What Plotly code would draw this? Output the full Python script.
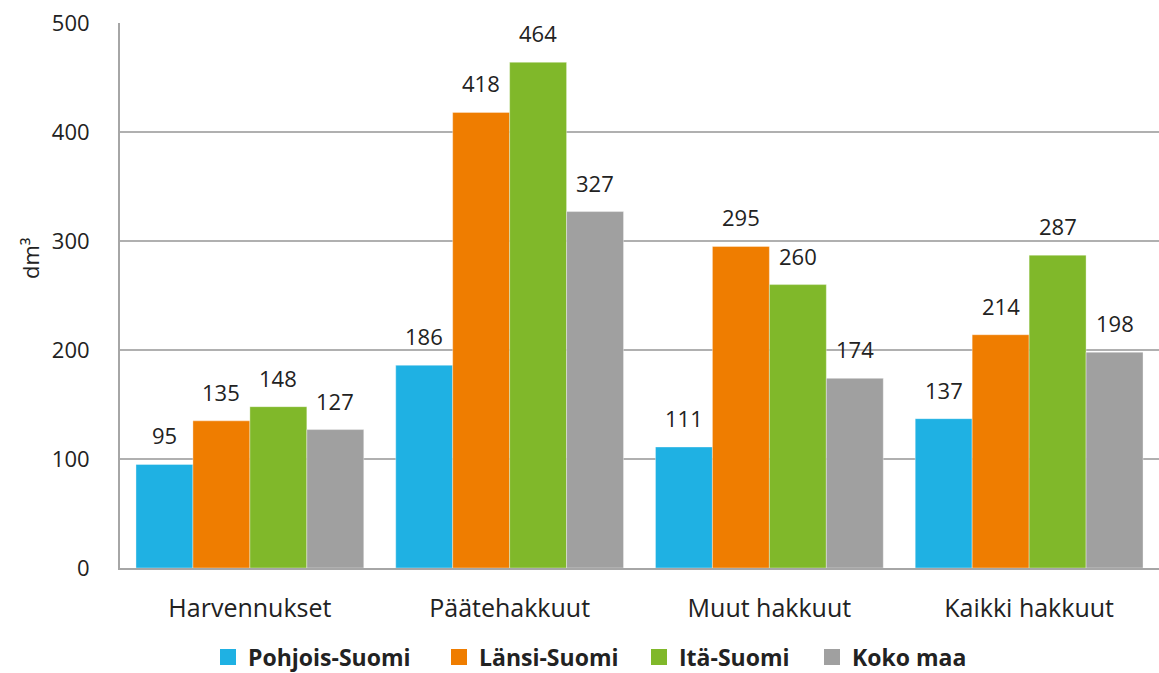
import plotly.graph_objects as go

categories = ["Harvennukset", "Päätehakkuut", "Muut hakkuut", "Kaikki hakkuut"]
series_names = ["Pohjois-Suomi", "Länsi-Suomi", "Itä-Suomi", "Koko maa"]
pohjois = [95, 186, 111, 137]
lansi = [135, 418, 295, 214]
ita = [148, 464, 260, 287]
koko = [127, 327, 174, 198]
values = [pohjois, lansi, ita, koko]
colors = ["#1FB1E3", "#EF7D00", "#80B82A", "#A0A0A0"]
y_ticks = [0, 100, 200, 300, 400, 500]

W, H = 1159, 673
ML, MR, MT, MB = 120, 0, 23, 105
BARGAP = 0.123
plot_w = W - ML - MR
plot_h = H - MT - MB
cat_w = plot_w / len(categories)
bar_w = cat_w * (1 - BARGAP) / len(series_names)
TXT = "#222222"

# legend text start positions (px) for each series entry
legend_text_x = [246, 477, 677, 850]
legend_y_px = 657

fig = go.Figure()
annotations = []
legends = {}
for i, (name, vals, col) in enumerate(zip(series_names, values, colors)):
    lg = "legend" if i == 0 else f"legend{i + 1}"
    fig.add_trace(go.Bar(
        x=categories, y=vals, name=name, showlegend=False,
        marker=dict(color=col, line=dict(color="rgba(255,255,255,0.6)", width=0.6)),
    ))
    # legend-only entry with a larger square swatch
    fig.add_trace(go.Scatter(
        x=[None], y=[None], mode="markers", name=name, legend=lg,
        marker=dict(symbol="square", size=16, color=col),
    ))
    legends[lg] = dict(
        x=(legend_text_x[i] - 38 - ML) / plot_w, xanchor="left",
        y=(H - MB - legend_y_px) / plot_h, yanchor="middle",
        orientation="h", bgcolor="rgba(0,0,0,0)", borderwidth=0,
        font=dict(family="Open Sans", size=23, color=TXT, weight="bold"),
        itemwidth=30,
    )
    for c, v in zip(categories, vals):
        annotations.append(dict(
            x=c, y=v, xref="x", yref="y", text=str(v), showarrow=False,
            xshift=(i - 1.5) * bar_w, yshift=29,
            xanchor="center", yanchor="middle",
            font=dict(family="Open Sans", size=22, color=TXT),
        ))

annotations.append(dict(
    x=(30 - ML) / plot_w, y=(H - MB - 258) / plot_h, xref="paper", yref="paper",
    xanchor="center", yanchor="middle",
    text="dm³", textangle=-90, showarrow=False,
    font=dict(family="Open Sans", size=22, color=TXT),
))

fig.update_layout(
    width=W, height=H,
    margin=dict(l=ML, r=MR, t=MT, b=MB, pad=0, autoexpand=False),
    paper_bgcolor="white", plot_bgcolor="white",
    barmode="group", bargap=BARGAP, bargroupgap=0,
    font=dict(family="Open Sans", size=22, color=TXT),
    showlegend=True,
    annotations=annotations,
    xaxis=dict(
        showline=True, linecolor="#A6A6A6", linewidth=2,
        ticks="", ticklabelstandoff=17, automargin=False,
        tickfont=dict(family="Open Sans", size=25, color=TXT),
    ),
    yaxis=dict(
        range=[0, 500], tickvals=y_ticks,
        showgrid=True, gridcolor="#B0B0B0", gridwidth=2,
        showline=True, linecolor="#A6A6A6", linewidth=2,
        zeroline=False, ticks="", ticklabelstandoff=24, automargin=False,
        tickfont=dict(family="Open Sans", size=22, color=TXT),
    ),
    **legends,
)

fig.write_html(
    "out.html",
    config={"displayModeBar": False},
    post_script="document.body.style.margin='0';",
)
